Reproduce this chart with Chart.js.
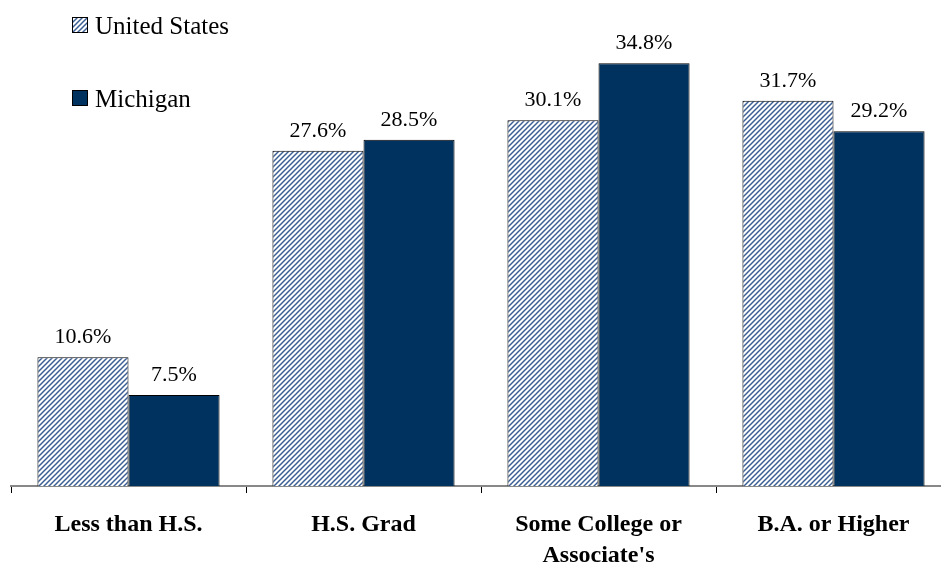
<!DOCTYPE html>
<html>
<head>
<meta charset="utf-8">
<script src="https://cdn.jsdelivr.net/npm/chart.js@4/dist/chart.umd.min.js"></script>
<style>
  html, body { margin: 0; padding: 0; background: #fff; overflow: hidden; }
  #wrap { position: relative; width: 951px; height: 564px; }
</style>
</head>
<body>
<div id="wrap"><canvas id="c" width="951" height="564"></canvas></div>
<script>
const categories = ["Less than H.S.", "H.S. Grad", ["Some College or", "Associate's"], "B.A. or Higher"];
const unitedStates = [10.6, 27.6, 30.1, 31.7];
const michigan = [7.5, 28.5, 34.8, 29.2];
const seriesNames = ["United States", "Michigan"];

const NAVY = "#00325f";
const SERIF = '"Liberation Serif", "Times New Roman", serif';

// Diagonal hatch fill for the national series
function makeHatch() {
  const s = 5;
  const p = document.createElement("canvas");
  p.width = s; p.height = s;
  const g = p.getContext("2d");
  g.fillStyle = "#ffffff";
  g.fillRect(0, 0, s, s);
  g.strokeStyle = "#3b5f94";
  g.lineWidth = 1.5;
  g.beginPath();
  g.moveTo(-1, s + 1); g.lineTo(s + 1, -1);
  g.moveTo(-1, 1); g.lineTo(1, -1);
  g.moveTo(s - 1, s + 1); g.lineTo(s + 1, s - 1);
  g.stroke();
  return g.createPattern(p, "repeat");
}
const ctx0 = document.getElementById("c").getContext("2d");
const hatch = makeHatch();

// Percent labels above each bar
const valueLabels = {
  id: "valueLabels",
  afterDatasetsDraw(chart) {
    const ctx = chart.ctx;
    ctx.save();
    ctx.font = '22px ' + SERIF;
    ctx.fillStyle = "#000";
    ctx.textAlign = "center";
    ctx.textBaseline = "alphabetic";
    chart.data.datasets.forEach((ds, i) => {
      chart.getDatasetMeta(i).data.forEach((bar, j) => {
        ctx.fillText(ds.data[j].toFixed(1) + "%", bar.x, bar.y - 14);
      });
    });
    ctx.restore();
  }
};

// Stacked legend in the upper left corner
const cornerLegend = {
  id: "cornerLegend",
  afterDraw(chart) {
    const ctx = chart.ctx;
    ctx.save();
    ctx.font = '25px ' + SERIF;
    ctx.textBaseline = "alphabetic";
    ctx.textAlign = "left";
    chart.data.datasets.forEach((ds, i) => {
      const top = 17 + i * 73;
      const x = 72, size = 16;
      ctx.fillStyle = ds.backgroundColor;
      ctx.fillRect(x, top, size, size);
      ctx.strokeStyle = "#000";
      ctx.lineWidth = 1;
      ctx.strokeRect(x + 0.5, top + 0.5, size - 1, size - 1);
      ctx.fillStyle = "#000";
      ctx.fillText(ds.label, 95, top + 17);
    });
    ctx.restore();
  }
};

new Chart(ctx0, {
  type: "bar",
  data: {
    labels: categories,
    datasets: [
      { label: seriesNames[0], data: unitedStates, backgroundColor: hatch, borderColor: "#000", borderWidth: 1 },
      { label: seriesNames[1], data: michigan, backgroundColor: NAVY, borderColor: "#000", borderWidth: 1 }
    ]
  },
  options: {
    responsive: false,
    animation: false,
    layout: { padding: { left: 11, right: 0, top: 0, bottom: 0 } },
    plugins: { legend: { display: false }, tooltip: { enabled: false } },
    datasets: { bar: { categoryPercentage: 0.775, barPercentage: 1.0 } },
    scales: {
      x: {
        afterFit(scale) { scale.height = 78; },
        grid: { display: true, drawOnChartArea: false, drawTicks: true, tickLength: 7, color: "#000", offset: true },
        border: { display: true, color: "#888", width: 2 },
        ticks: {
          color: "#000",
          padding: 16,
          maxRotation: 0,
          autoSkip: false,
          font: { family: SERIF, size: 24, weight: "bold", lineHeight: 1.3 }
        }
      },
      y: { display: false, min: 0, max: 40 }
    }
  },
  plugins: [valueLabels, cornerLegend]
});
</script>
</body>
</html>
